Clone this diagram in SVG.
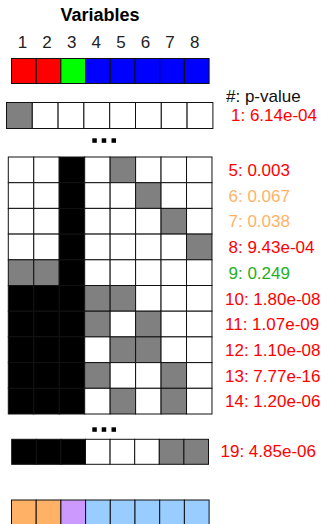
<svg xmlns="http://www.w3.org/2000/svg" width="324" height="524" viewBox="0 0 324 524">
<style>
text{font-family:"Liberation Sans",Arial,sans-serif;font-size:17px}
.title{font-weight:bold;font-size:18px}
.num{fill:#222}
.c rect{stroke:#111;stroke-width:1}
.w{fill:#fff}.g{fill:#808080}.k{fill:#000}
.r{fill:#ff0000}.gr{fill:#00ff00}.b{fill:#0000ff}
.o{fill:#ffb266}.p{fill:#cc99ff}.lb{fill:#99ccff}
.tr{fill:#ff0000}.to{fill:#ffb266}.tg{fill:#22b022}.tk{fill:#111}
.dot{fill:#000}
</style>
<rect width="324" height="524" fill="#fff"/>
<g id="header">
<text class="title" x="100" y="21" text-anchor="middle">Variables</text>
<g class="num" text-anchor="middle">
<text x="22.5" y="48">1</text><text x="47.1" y="48">2</text><text x="71.7" y="48">3</text><text x="96.3" y="48">4</text>
<text x="120.9" y="48">5</text><text x="145.5" y="48">6</text><text x="170.1" y="48">7</text><text x="194.7" y="48">8</text>
</g>
</g>
<g id="var-colors" class="c">
<rect class="r" x="11.5" y="58.5" width="24.7" height="25"/>
<rect class="r" x="36.2" y="58.5" width="24.7" height="25"/>
<rect class="gr" x="60.9" y="58.5" width="24.7" height="25"/>
<rect class="b" x="85.6" y="58.5" width="24.7" height="25"/>
<rect class="b" x="110.3" y="58.5" width="24.7" height="25"/>
<rect class="b" x="135" y="58.5" width="24.7" height="25"/>
<rect class="b" x="159.7" y="58.5" width="24.7" height="25"/>
<rect class="b" x="184.4" y="58.5" width="24.7" height="25"/>
</g>
<text class="tk" x="226" y="102">#: p-value</text>
<g id="row1" class="c">
<rect class="g" x="6.5" y="102.5" width="25.8" height="26"/>
<rect class="w" x="32.3" y="102.5" width="25.8" height="26"/>
<rect class="w" x="58.1" y="102.5" width="25.8" height="26"/>
<rect class="w" x="83.9" y="102.5" width="25.8" height="26"/>
<rect class="w" x="109.7" y="102.5" width="25.8" height="26"/>
<rect class="w" x="135.5" y="102.5" width="25.8" height="26"/>
<rect class="w" x="161.3" y="102.5" width="25.8" height="26"/>
<rect class="w" x="187.1" y="102.5" width="25.8" height="26"/>
<text class="tr" x="231" y="121">1: 6.14e-04</text>
</g>
<g id="dots1" class="dot">
<rect x="92.3" y="138.3" width="4.5" height="4.5"/><rect x="101.7" y="138.3" width="4.5" height="4.5"/><rect x="111.5" y="138.3" width="4.5" height="4.5"/>
</g>
<g id="grid" class="c">
<!-- row 5 -->
<g id="row5">
<rect class="w" x="8.3" y="157" width="25.46" height="25.7"/><rect class="w" x="33.76" y="157" width="25.46" height="25.7"/><rect class="k" x="59.22" y="157" width="25.46" height="25.7"/><rect class="w" x="84.68" y="157" width="25.46" height="25.7"/><rect class="g" x="110.14" y="157" width="25.46" height="25.7"/><rect class="w" x="135.6" y="157" width="25.46" height="25.7"/><rect class="w" x="161.06" y="157" width="25.46" height="25.7"/><rect class="w" x="186.52" y="157" width="25.46" height="25.7"/>
</g>
<g id="row6">
<rect class="w" x="8.3" y="182.7" width="25.46" height="25.7"/><rect class="w" x="33.76" y="182.7" width="25.46" height="25.7"/><rect class="k" x="59.22" y="182.7" width="25.46" height="25.7"/><rect class="w" x="84.68" y="182.7" width="25.46" height="25.7"/><rect class="w" x="110.14" y="182.7" width="25.46" height="25.7"/><rect class="g" x="135.6" y="182.7" width="25.46" height="25.7"/><rect class="w" x="161.06" y="182.7" width="25.46" height="25.7"/><rect class="w" x="186.52" y="182.7" width="25.46" height="25.7"/>
</g>
<g id="row7">
<rect class="w" x="8.3" y="208.4" width="25.46" height="25.7"/><rect class="w" x="33.76" y="208.4" width="25.46" height="25.7"/><rect class="k" x="59.22" y="208.4" width="25.46" height="25.7"/><rect class="w" x="84.68" y="208.4" width="25.46" height="25.7"/><rect class="w" x="110.14" y="208.4" width="25.46" height="25.7"/><rect class="w" x="135.6" y="208.4" width="25.46" height="25.7"/><rect class="g" x="161.06" y="208.4" width="25.46" height="25.7"/><rect class="w" x="186.52" y="208.4" width="25.46" height="25.7"/>
</g>
<g id="row8">
<rect class="w" x="8.3" y="234.1" width="25.46" height="25.7"/><rect class="w" x="33.76" y="234.1" width="25.46" height="25.7"/><rect class="k" x="59.22" y="234.1" width="25.46" height="25.7"/><rect class="w" x="84.68" y="234.1" width="25.46" height="25.7"/><rect class="w" x="110.14" y="234.1" width="25.46" height="25.7"/><rect class="w" x="135.6" y="234.1" width="25.46" height="25.7"/><rect class="w" x="161.06" y="234.1" width="25.46" height="25.7"/><rect class="g" x="186.52" y="234.1" width="25.46" height="25.7"/>
</g>
<g id="row9">
<rect class="g" x="8.3" y="259.8" width="25.46" height="25.7"/><rect class="g" x="33.76" y="259.8" width="25.46" height="25.7"/><rect class="k" x="59.22" y="259.8" width="25.46" height="25.7"/><rect class="w" x="84.68" y="259.8" width="25.46" height="25.7"/><rect class="w" x="110.14" y="259.8" width="25.46" height="25.7"/><rect class="w" x="135.6" y="259.8" width="25.46" height="25.7"/><rect class="w" x="161.06" y="259.8" width="25.46" height="25.7"/><rect class="w" x="186.52" y="259.8" width="25.46" height="25.7"/>
</g>
<g id="row10">
<rect class="k" x="8.3" y="285.5" width="25.46" height="25.7"/><rect class="k" x="33.76" y="285.5" width="25.46" height="25.7"/><rect class="k" x="59.22" y="285.5" width="25.46" height="25.7"/><rect class="g" x="84.68" y="285.5" width="25.46" height="25.7"/><rect class="g" x="110.14" y="285.5" width="25.46" height="25.7"/><rect class="w" x="135.6" y="285.5" width="25.46" height="25.7"/><rect class="w" x="161.06" y="285.5" width="25.46" height="25.7"/><rect class="w" x="186.52" y="285.5" width="25.46" height="25.7"/>
</g>
<g id="row11">
<rect class="k" x="8.3" y="311.2" width="25.46" height="25.7"/><rect class="k" x="33.76" y="311.2" width="25.46" height="25.7"/><rect class="k" x="59.22" y="311.2" width="25.46" height="25.7"/><rect class="g" x="84.68" y="311.2" width="25.46" height="25.7"/><rect class="w" x="110.14" y="311.2" width="25.46" height="25.7"/><rect class="g" x="135.6" y="311.2" width="25.46" height="25.7"/><rect class="w" x="161.06" y="311.2" width="25.46" height="25.7"/><rect class="w" x="186.52" y="311.2" width="25.46" height="25.7"/>
</g>
<g id="row12">
<rect class="k" x="8.3" y="336.9" width="25.46" height="25.7"/><rect class="k" x="33.76" y="336.9" width="25.46" height="25.7"/><rect class="k" x="59.22" y="336.9" width="25.46" height="25.7"/><rect class="w" x="84.68" y="336.9" width="25.46" height="25.7"/><rect class="g" x="110.14" y="336.9" width="25.46" height="25.7"/><rect class="g" x="135.6" y="336.9" width="25.46" height="25.7"/><rect class="w" x="161.06" y="336.9" width="25.46" height="25.7"/><rect class="w" x="186.52" y="336.9" width="25.46" height="25.7"/>
</g>
<g id="row13">
<rect class="k" x="8.3" y="362.6" width="25.46" height="25.7"/><rect class="k" x="33.76" y="362.6" width="25.46" height="25.7"/><rect class="k" x="59.22" y="362.6" width="25.46" height="25.7"/><rect class="g" x="84.68" y="362.6" width="25.46" height="25.7"/><rect class="w" x="110.14" y="362.6" width="25.46" height="25.7"/><rect class="w" x="135.6" y="362.6" width="25.46" height="25.7"/><rect class="g" x="161.06" y="362.6" width="25.46" height="25.7"/><rect class="w" x="186.52" y="362.6" width="25.46" height="25.7"/>
</g>
<g id="row14">
<rect class="k" x="8.3" y="388.3" width="25.46" height="25.7"/><rect class="k" x="33.76" y="388.3" width="25.46" height="25.7"/><rect class="k" x="59.22" y="388.3" width="25.46" height="25.7"/><rect class="w" x="84.68" y="388.3" width="25.46" height="25.7"/><rect class="g" x="110.14" y="388.3" width="25.46" height="25.7"/><rect class="w" x="135.6" y="388.3" width="25.46" height="25.7"/><rect class="g" x="161.06" y="388.3" width="25.46" height="25.7"/><rect class="w" x="186.52" y="388.3" width="25.46" height="25.7"/>
</g>
</g>
<g id="labels">
<text class="tr" x="228.5" y="176">5: 0.003</text>
<text class="to" x="228.5" y="201.5">6: 0.067</text>
<text class="to" x="228.5" y="227.2">7: 0.038</text>
<text class="tr" x="228.5" y="253">8: 9.43e-04</text>
<text class="tg" x="228.5" y="278.6">9: 0.249</text>
<text class="tr" x="225" y="304.5">10: 1.80e-08</text>
<text class="tr" x="225" y="330.2">11: 1.07e-09</text>
<text class="tr" x="225" y="355.9">12: 1.10e-08</text>
<text class="tr" x="225" y="381.6">13: 7.77e-16</text>
<text class="tr" x="225" y="407.3">14: 1.20e-06</text>
</g>
<g id="dots2" class="dot">
<rect x="92.3" y="427.3" width="4.5" height="4.5"/><rect x="101.7" y="427.3" width="4.5" height="4.5"/><rect x="111.5" y="427.3" width="4.5" height="4.5"/>
</g>
<g id="row19" class="c">
<rect class="k" x="11.7" y="439.3" width="24.6" height="25"/><rect class="k" x="36.3" y="439.3" width="24.6" height="25"/><rect class="k" x="60.9" y="439.3" width="24.6" height="25"/><rect class="w" x="85.5" y="439.3" width="24.6" height="25"/><rect class="w" x="110.1" y="439.3" width="24.6" height="25"/><rect class="w" x="134.7" y="439.3" width="24.6" height="25"/><rect class="g" x="159.3" y="439.3" width="24.6" height="25"/><rect class="g" x="183.9" y="439.3" width="24.6" height="25"/>
<text class="tr" x="220.5" y="457.3">19: 4.85e-06</text>
</g>
<g id="group-colors" class="c">
<rect class="o" x="11.5" y="500" width="24.7" height="30"/>
<rect class="o" x="36.2" y="500" width="24.7" height="30"/>
<rect class="p" x="60.9" y="500" width="24.7" height="30"/>
<rect class="lb" x="85.6" y="500" width="24.7" height="30"/>
<rect class="lb" x="110.3" y="500" width="24.7" height="30"/>
<rect class="lb" x="135" y="500" width="24.7" height="30"/>
<rect class="lb" x="159.7" y="500" width="24.7" height="30"/>
<rect class="lb" x="184.4" y="500" width="24.7" height="30"/>
</g>
</svg>
